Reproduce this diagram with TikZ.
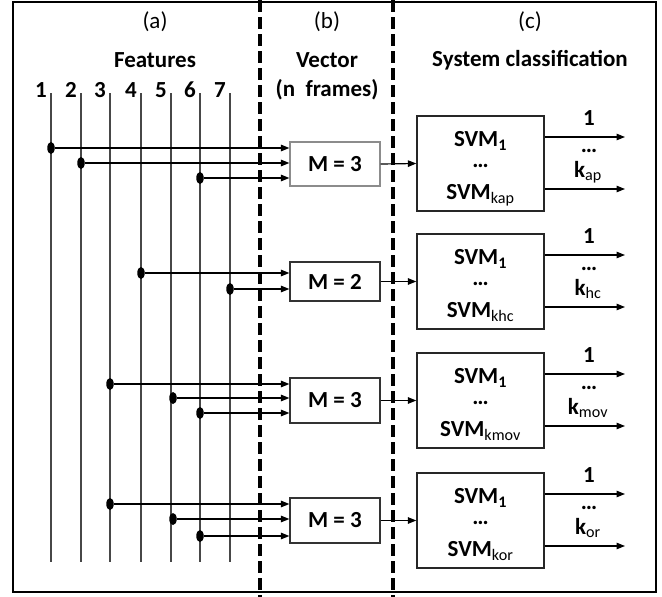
\documentclass[tikz,border=0pt]{standalone}
\usepackage{fontspec}
\setmainfont{Carlito}
\usetikzlibrary{arrows.meta,shapes.geometric}

\tikzset{
  featline/.style={draw=black!72, line width=1.2pt},
  sepline/.style={draw=black, line width=3.6pt, dash pattern=on 12pt off 5pt},
  frameline/.style={draw=black, line width=1.4pt},
  fdot/.style={ellipse, fill=black, inner sep=0pt, minimum width=7.5pt, minimum height=12pt},
  arr/.style={draw=black, line width=1.2pt, -{Triangle[length=8.5pt,width=6.5pt]}},
  mbox/.style={draw=black!80, line width=1.2pt, minimum width=90pt, font=\fontsize{23}{25}\selectfont\bfseries},
  svmbox/.style={draw=black!85, line width=1.3pt, minimum width=127pt, minimum height=95pt},
  btxt/.style={inner sep=0pt, font=\fontsize{23}{25}\selectfont\bfseries},
  hdr/.style={inner sep=0pt, font=\fontsize{23}{25}\selectfont\bfseries},
  tag/.style={inner sep=0pt, font=\fontsize{23}{25}\selectfont},
  num/.style={inner sep=0pt, anchor=base east, font=\fontsize{23}{25}\selectfont\bfseries},
}
\newcommand{\lsub}[1]{\textsubscript{\mdseries #1}}

\begin{document}
\begin{tikzpicture}[x=1pt, y=-1pt]
\useasboundingbox (0,0) rectangle (662,597);

% outer frame and column separators
\draw[frameline] (13,2) rectangle (656,592);
\coordinate (sepAtop) at (260,0);
\coordinate (sepAbot) at (260,597);
\coordinate (sepBtop) at (393,0);
\coordinate (sepBbot) at (393,597);
\draw[sepline] (sepAtop) -- (sepAbot);
\draw[sepline] (sepBtop) -- (sepBbot);

% column headers
\node[tag] (ta) at (155,22) {(a)};
\node[hdr] (tfeat) at (155,60) {Features};
\node[tag] (tb) at (327,22) {(b)};
\node[hdr] (tvec) at (327,60) {Vector};
\node[hdr] (tfr) at (327,90) {(n\ \ frames)};
\node[tag] (tc) at (530,22) {(c)};
\node[hdr] (tsys) at (530,60) {System classification};

% feature lines with their numbers
\foreach \i/\x in {1/51,2/81,3/110,4/141,5/171,6/200,7/230}{
  \coordinate (f\i top) at (\x,93);
  \coordinate (f\i bot) at (\x,562);
  \draw[featline] (f\i top) -- (f\i bot);
  \node[num] (n\i) at (\x-4,97) {\i};
}

% vector blocks
\node[mbox, draw=black!45, minimum height=44pt] (m1) at (335,164) {M = 3};
\node[mbox, minimum height=39pt] (m2) at (335,281.5) {M = 2};
\node[mbox, minimum height=45pt] (m3) at (335,400.5) {M = 3};
\node[mbox, minimum height=45pt] (m4) at (335,520.5) {M = 3};

% feature taps feeding the vector blocks
\foreach \name/\x/\y/\m in {
  d11/51/148/m1, d12/81/163/m1, d13/200/178/m1,
  d21/141/273/m2, d22/230/289/m2,
  d31/110/384/m3, d32/173/398/m3, d33/200/413/m3,
  d41/110/504/m4, d42/173/519/m4, d43/200/536/m4}{
  \node[fdot] (\name) at (\x,\y) {};
  \draw[arr] (\name) -- (\name -| \m.west);
}

% SVM classifier blocks with their outputs
\foreach \k/\y/\sub in {1/163.5/kap, 2/281.5/khc, 3/400.5/kmov, 4/520.5/kor}{
  \node[svmbox] (s\k) at (480.5,\y) {};
  \draw[arr] (m\k.east) -- (s\k.west);
  \node[btxt, anchor=base] (s\k a) at ([yshift=-31pt]s\k.north) {SVM\textsubscript{1}};
  \node[btxt, anchor=base] (s\k b) at ([yshift=-52pt]s\k.north) {…};
  \node[btxt, anchor=base] (s\k c) at ([yshift=-84pt]s\k.north) {SVM\lsub{\sub}};
  \coordinate (o\k a) at (625,\y-26.5);
  \coordinate (o\k b) at (625,\y+25.5);
  \draw[arr] (s\k.east |- o\k a) -- (o\k a);
  \draw[arr] (s\k.east |- o\k b) -- (o\k b);
  \node[btxt, anchor=base] (l\k a) at (589,\y-38.5) {1};
  \node[btxt, anchor=base] (l\k b) at (589,\y-11.5) {…};
}
\node[btxt, anchor=base] (l1c) at (588,177) {k\lsub{ap}};
\node[btxt, anchor=base] (l2c) at (588,295) {k\lsub{hc}};
\node[btxt, anchor=base] (l3c) at (588,414) {k\lsub{mov}};
\node[btxt, anchor=base] (l4c) at (588,534) {k\lsub{or}};
\end{tikzpicture}
\end{document}
